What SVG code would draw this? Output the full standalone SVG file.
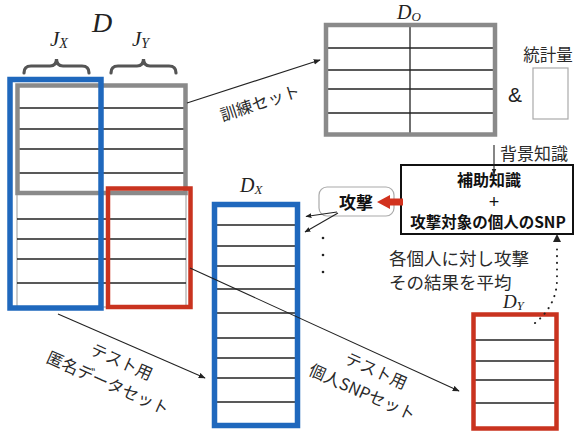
<svg xmlns="http://www.w3.org/2000/svg" width="576" height="434" viewBox="0 0 576 434">
<defs>
<style>
.ln{stroke:#222;stroke-width:1.3;fill:none}
.gray{stroke:#8a8a8a;stroke-width:4.5;fill:none}
.blue{stroke:#1f68bd;stroke-width:5.5;fill:none}
.red{stroke:#c9331f;stroke-width:4.5;fill:none}
.thin{stroke:#aaa;stroke-width:1.2;fill:none}
.math{font-family:"Liberation Serif",serif;font-style:italic;fill:#222}
.jp{font-family:"Noto Sans CJK JP","Noto Sans",sans-serif;fill:#2a2a2a}
.b{font-weight:bold;fill:#111}
.conn{stroke:#222;stroke-width:1.1;fill:none}
.brace{stroke:#555;stroke-width:3.2;fill:none;stroke-linecap:round}
</style>
<marker id="ah" viewBox="0 0 10 10" refX="9" refY="5" markerWidth="7" markerHeight="7" markerUnits="userSpaceOnUse" orient="auto">
<path d="M0,1 L10,5 L0,9 z" fill="#222"/>
</marker>
<marker id="ahs" viewBox="0 0 10 10" refX="9" refY="5" markerWidth="6" markerHeight="6" markerUnits="userSpaceOnUse" orient="auto">
<path d="M0,1 L10,5 L0,9 z" fill="#222"/>
</marker>
</defs>
<rect width="576" height="434" fill="#fff"/>

<g id="table-D">
<rect x="17" y="86" width="169" height="221" fill="#fff" stroke="#999" stroke-width="1"/>
<g class="ln">
<line x1="17" y1="108" x2="186" y2="108"/>
<line x1="17" y1="129" x2="186" y2="129"/>
<line x1="17" y1="149" x2="186" y2="149"/>
<line x1="17" y1="173" x2="186" y2="173"/>
<line x1="17" y1="219" x2="186" y2="219"/>
<line x1="17" y1="239" x2="186" y2="239"/>
<line x1="17" y1="259" x2="186" y2="259"/>
<line x1="17" y1="283" x2="186" y2="283"/>
<line x1="102" y1="86" x2="102" y2="307"/>
</g>
<rect class="gray" x="17.5" y="85.5" width="168" height="107.5"/>
<rect class="red" x="108" y="188.5" width="82.5" height="118.5"/>
<rect class="blue" x="10" y="79.5" width="91" height="228.5"/>
<path class="brace" d="M24,73 Q24,66 31,66 L50,66 Q56.5,66 56.5,59 Q56.5,66 63,66 L82,66 Q89,66 89,73"/>
<path class="brace" d="M111,73 Q111,66 118,66 L137,66 Q143.5,66 143.5,59 Q143.5,66 150,66 L169,66 Q176,66 176,73"/>
<text class="math" x="102" y="32" font-size="28" text-anchor="middle">D</text>
<text class="math" x="50" y="46" font-size="21">J<tspan font-size="14" dy="2">X</tspan></text>
<text class="math" x="132" y="46" font-size="21">J<tspan font-size="14" dy="2">Y</tspan></text>
</g>

<g id="table-DO">
<g class="ln">
<line x1="326" y1="48" x2="495" y2="48"/>
<line x1="326" y1="70" x2="495" y2="70"/>
<line x1="326" y1="89" x2="495" y2="89"/>
<line x1="326" y1="113" x2="495" y2="113"/>
<line x1="410" y1="25" x2="410" y2="134"/>
</g>
<rect class="gray" x="326" y="25" width="169" height="109.5"/>
<text class="math" x="397" y="19" font-size="20">D<tspan font-size="13" dy="2">O</tspan></text>
</g>

<g id="stats">
<text class="jp" x="548" y="61" font-size="16.5" text-anchor="middle">統計量</text>
<rect class="thin" x="533" y="68" width="35" height="51" stroke="#999"/>
<text x="515" y="102" font-family="Liberation Sans, sans-serif" font-size="21" fill="#222" text-anchor="middle">&amp;</text>
</g>

<g id="knowledge-box">
<rect x="401" y="165" width="172" height="69" fill="#fff" stroke="#111" stroke-width="2"/>
<text class="jp b" x="489" y="186" font-size="16" text-anchor="middle">補助知識</text>
<text x="494" y="207.5" font-family="Liberation Sans, sans-serif" font-size="18" text-anchor="middle" fill="#111">+</text>
<text class="jp b" x="488" y="228" font-size="15.5" text-anchor="middle">攻撃対象の個人のSNP</text>
</g>

<g id="attack">
<rect x="319" y="187" width="75" height="29" rx="8" fill="#fff" stroke="#aaa" stroke-width="1.2"/>
<text class="jp b" x="356" y="209" font-size="17" text-anchor="middle">攻撃</text>
</g>

<g id="table-DX">
<g class="ln">
<line x1="212" y1="225" x2="300" y2="225"/>
<line x1="212" y1="246" x2="300" y2="246"/>
<line x1="212" y1="266" x2="300" y2="266"/>
<line x1="212" y1="289" x2="300" y2="289"/>
<line x1="212" y1="313" x2="300" y2="313"/>
<line x1="212" y1="338" x2="300" y2="338"/>
<line x1="212" y1="358" x2="300" y2="358"/>
<line x1="212" y1="378" x2="300" y2="378"/>
<line x1="212" y1="402" x2="300" y2="402"/>
</g>
<rect class="blue" x="214.5" y="204.5" width="83" height="221"/>
<text class="math" x="240" y="192" font-size="20">D<tspan font-size="13" dy="2">X</tspan></text>
</g>

<g id="table-DY">
<g class="ln">
<line x1="473" y1="340" x2="557" y2="340"/>
<line x1="473" y1="361" x2="557" y2="361"/>
<line x1="473" y1="380" x2="557" y2="380"/>
<line x1="473" y1="403" x2="557" y2="403"/>
</g>
<rect class="red" x="473.5" y="314.5" width="83" height="114"/>
<text class="math" x="503" y="308" font-size="19">D<tspan font-size="12.5" dy="2">Y</tspan></text>
</g>

<g id="connectors">
<line class="conn" x1="187" y1="103" x2="320" y2="60" marker-end="url(#ah)"/>
<line class="conn" x1="58" y1="314" x2="205" y2="378" marker-end="url(#ah)"/>
<line class="conn" x1="190" y1="268" x2="459" y2="391" marker-end="url(#ah)"/>
<line class="conn" x1="494" y1="145" x2="494" y2="174" marker-end="url(#ahs)"/>
<line class="conn" x1="337" y1="212" x2="306" y2="216.5" marker-end="url(#ahs)"/>
<line class="conn" x1="338" y1="213" x2="305" y2="232" marker-end="url(#ahs)"/>
<polygon points="403,198.5 390,198.5 390,195 377,202 390,209 390,205.5 403,205.5" fill="#d2321e"/>
<path d="M535,323 Q556,306 557,281 L557,243" fill="none" stroke="#222" stroke-width="2" stroke-dasharray="0.1 6.6" stroke-linecap="round"/>
<path d="M557,234 L553,242 L561,242 z" fill="#222"/>
<g fill="#222">
<circle cx="323" cy="238" r="1.3"/>
<circle cx="323" cy="255" r="1.3"/>
<circle cx="323" cy="272" r="1.3"/>
</g>
</g>

<g id="labels">
<text class="jp" x="0" y="0" font-size="16.5" text-anchor="middle" transform="translate(260,103) rotate(-18) translate(0,6)">訓練セット</text>
<text class="jp" x="500" y="160" font-size="17">背景知識</text>
<text class="jp" x="389" y="265" font-size="17.5" fill="#333">各個人に対し攻撃</text>
<text class="jp" x="389" y="289" font-size="17.5" fill="#333">その結果を平均</text>
<g transform="translate(115,372) rotate(24)">
<text class="jp" x="2" y="-6" font-size="16.5" text-anchor="middle">テスト用</text>
<text class="jp" x="-2" y="19" font-size="16.5" text-anchor="middle">匿名データセット</text>
</g>
<g transform="translate(369.5,381) rotate(24)">
<text class="jp" x="2" y="-6" font-size="16.5" text-anchor="middle">テスト用</text>
<text class="jp" x="-2" y="19" font-size="16.5" text-anchor="middle">個人SNPセット</text>
</g>
</g>
</svg>
